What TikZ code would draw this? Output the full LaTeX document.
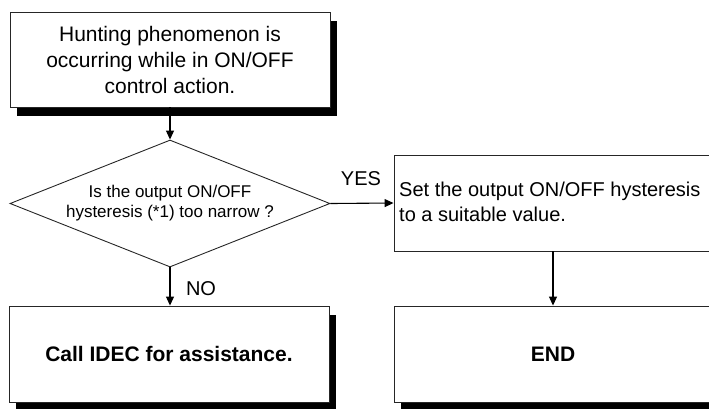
\documentclass[tikz,border=0pt]{standalone}
\usepackage{fontspec}
\setmainfont{Liberation Sans}
\usetikzlibrary{shapes.geometric,arrows.meta,shadows}
\begin{document}
\begin{tikzpicture}[x=1pt,y=-1pt,
  box/.style={draw=black!85, line width=0.9pt, fill=white, rectangle, inner sep=0pt},
  shadowed/.style={drop shadow={shadow xshift=7pt, shadow yshift=-9pt, fill=black, opacity=1}},
  conn/.style={line width=1.1pt, -{Triangle[length=9pt,width=8pt]}},
  lbl/.style={font=\fontsize{20}{24}\selectfont, inner sep=0pt}
]
\clip (0,0) rectangle (709,408);
\useasboundingbox (0,0) rectangle (709,408);

\node[box, shadowed, minimum width=320pt, minimum height=95pt, align=center,
      font=\fontsize{21}{26}\selectfont] (start) at (170,59.5)
  {Hunting phenomenon is\\occurring while in ON/OFF\\control action.};

\node[diamond, draw=black!85, line width=0.9pt, minimum width=320pt, minimum height=127pt, inner sep=0pt] (dec) at (170,203.5) {};
\node[align=center, font=\fontsize{17}{20}\selectfont, inner sep=0pt] (dectext) at (dec.center)
  {Is the output ON/OFF\\hysteresis (*1) too narrow ?};

\node[box, minimum width=318pt, minimum height=96pt] (set) at (553,203) {};
\node[anchor=west, align=left, font=\fontsize{20}{24.5}\selectfont, inner sep=0pt] (settext) at (399,202)
  {Set the output ON/OFF hysteresis\\to a suitable value.};

\node[box, shadowed, minimum width=320pt, minimum height=96pt,
      font=\bfseries\fontsize{21}{25}\selectfont] (call) at (169,354) {Call IDEC for assistance.};

\node[box, shadowed, minimum width=318pt, minimum height=96pt,
      font=\bfseries\fontsize{21}{25}\selectfont] (end) at (553,354) {END};

\draw[conn] (start.south) -- (dec.north);
\draw[conn] (dec.east) -- (set.west);
\draw[conn] (dec.south) -- (dec.south |- call.north);
\draw[conn] (set.south) -- (end.north);

\node[lbl] (yes) at (361,179) {YES};
\node[lbl] (no) at (201,289) {NO};
\end{tikzpicture}
\end{document}
